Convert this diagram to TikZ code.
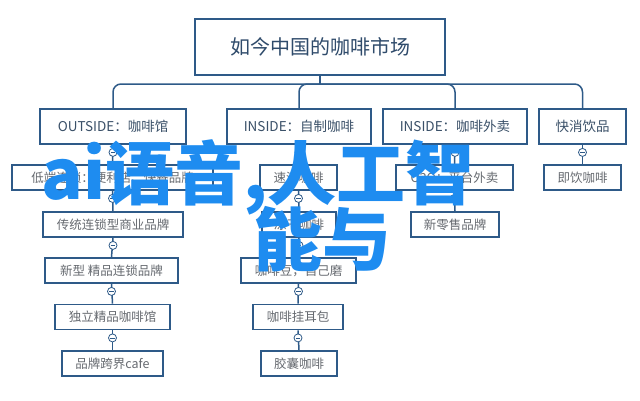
\documentclass[tikz,border=0pt]{standalone}
\usepackage{fontspec}
\newfontfamily\cjk{Noto Sans CJK SC}
\definecolor{BoxBlue}{HTML}{2E5A88}
\definecolor{TitleText}{HTML}{2F4B6B}
\definecolor{HeadText}{HTML}{3A5068}
\definecolor{LeafText}{HTML}{666A70}
\definecolor{StampBlue}{HTML}{1E8CF0}
\tikzset{
    box/.style={draw=BoxBlue, line width=1.8pt, fill=white, inner sep=0pt,
        font=\cjk\fontsize{12.5}{14}\selectfont, text=LeafText},
    head/.style={box, minimum height=35pt, font=\cjk\fontsize{13.5}{15}\selectfont, text=HeadText},
    leaf/.style={box, minimum height=25pt},
    link/.style={draw=BoxBlue, line width=1.5pt},
    fold/.style={circle, draw=BoxBlue, fill=white, line width=0.8pt, minimum size=8pt, inner sep=0pt,
        path picture={\draw[BoxBlue, line width=0.7pt]
            ([xshift=-2.2pt]path picture bounding box.center) -- ([xshift=2.2pt]path picture bounding box.center);}},
    stamp/.style={text=StampBlue, inner sep=0pt, anchor=base west,
        font=\cjk\bfseries\fontsize{69}{69}\selectfont}
}

\begin{document}
\begin{tikzpicture}[x=1pt, y=-1pt]

    \useasboundingbox (0,0) rectangle (640,400);

    \node[box, minimum width=250pt, minimum height=56pt, text=TitleText,
        font=\cjk\fontsize{20}{22}\selectfont] (title) at (320,47) {如今中国的咖啡市场};

    \node[head, minimum width=146pt] (o1) at (113,126.5) {OUTSIDE：咖啡馆};
    \node[head, minimum width=144pt] (i1) at (299,126.5) {INSIDE：自制咖啡};
    \node[head, minimum width=144pt] (i2) at (455,126.5) {INSIDE：咖啡外卖};
    \node[head, minimum width=87pt] (k1) at (582.5,126.5) {快消饮品};

    % Columna izquierda
    \node[leaf, minimum width=201pt] (l1) at (112.5,177.5) {低端连锁：便利店、快餐品牌};
    \node[leaf, minimum width=140pt] (l2) at (113,224.5) {传统连锁型商业品牌};
    \node[leaf, minimum width=133pt] (l3) at (111.5,270.5) {新型 精品连锁品牌};
    \node[leaf, minimum width=115pt] (l4) at (112.5,317) {独立精品咖啡馆};
    \node[leaf, minimum width=101pt] (l5) at (112.5,363.5) {品牌跨界cafe};

    % Columna central
    \node[leaf, minimum width=77pt] (m1) at (298.5,177.5) {速溶咖啡};
    \node[leaf, minimum width=74pt] (m2) at (299,224.5) {冻干咖啡};
    \node[leaf, minimum width=115pt] (m3) at (298.5,270.5) {咖啡豆，自己磨};
    \node[leaf, minimum width=90pt] (m4) at (298,317) {咖啡挂耳包};
    \node[leaf, minimum width=76pt] (m5) at (299,363.5) {胶囊咖啡};

    % Columnas derechas
    \node[leaf, minimum width=117pt] (r1) at (454.5,177.5) {O2O：平台外卖};
    \node[leaf, minimum width=88pt] (r2) at (455,224.5) {新零售品牌};
    \node[leaf, minimum width=77pt] (k2) at (582.5,177.5) {即饮咖啡};

    % Barra superior
    \coordinate (bus) at (320,84);
    \draw[link] (title.south) -- (bus);
    \foreach \c in {o1, i1, i2, k1}
        \draw[link, rounded corners=8pt] (bus) -| (\c.north);

    % Enlaces con marcador de plegado
    \foreach \a/\b in {o1/l1, l1/l2, l2/l3, l3/l4, l4/l5,
                       i1/m1, m1/m2, m2/m3, m3/m4, m4/m5,
                       i2/r1, r1/r2, k1/k2} {
        \draw[link] (\a.south) -- (\b.north);
        \node[fold] at ([yshift=-7.5pt]\a.south) {};
    }

    % Texto superpuesto
    \node[stamp] (wm1) at (41,199) {ai语音,人工智};
    \node[stamp] (wm2) at (253,265) {能与};

\end{tikzpicture}
\end{document}
